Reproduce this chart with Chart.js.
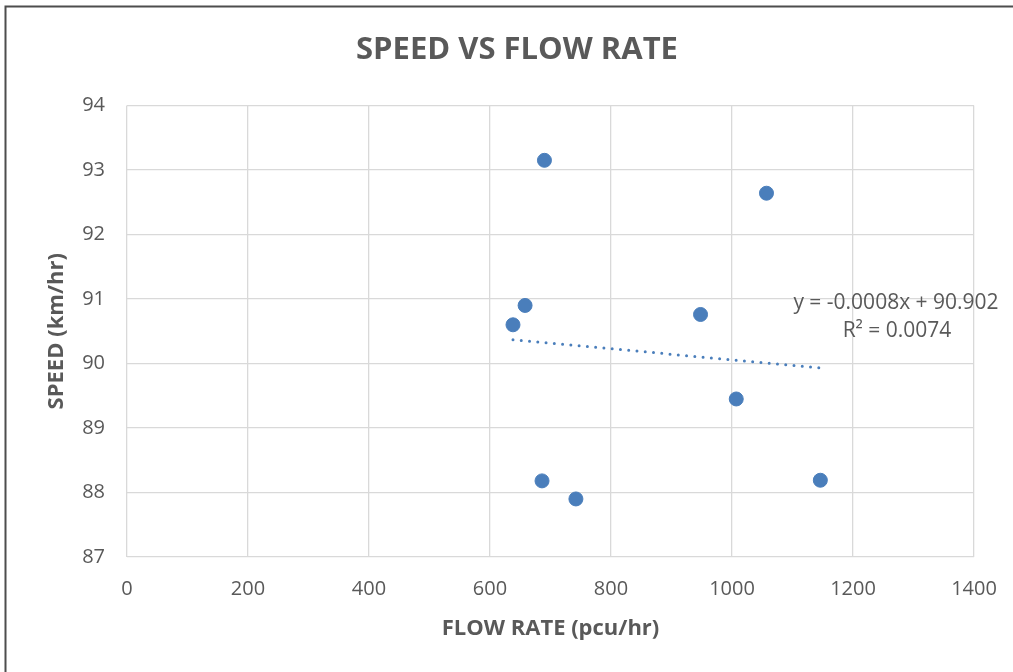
<!DOCTYPE html>
<html>
<head>
<meta charset="utf-8">
<script src="https://cdn.jsdelivr.net/npm/chart.js@4"></script>
<style>
  body { margin: 0; background: #fff; }
  #wrap { position: absolute; left: 0; top: 0; width: 1013px; height: 672px; }
</style>
</head>
<body>
<div id="wrap"><canvas id="chart_speed"></canvas></div>
<script>
const flow_rate = [690, 1057, 658, 638, 948, 1007, 686, 742, 1146];
const speed = [93.15, 92.64, 90.90, 90.60, 90.76, 89.45, 88.18, 87.90, 88.19];

// linear trendline end points (as drawn)
const trend_x = [638, 1146];
const trend_y = [90.37, 89.93];
const trend_label = ["y = -0.0008x + 90.902", "R\u00B2 = 0.0074"];

const chart_title = "SPEED VS FLOW RATE";
const x_ticks = [0, 200, 400, 600, 800, 1000, 1200, 1400];
const y_ticks = [87, 88, 89, 90, 91, 92, 93, 94];

const blue = "#4a7ebb";
const grey_text = "#595959";
const font_face = "'Open Sans', 'Liberation Sans', sans-serif";

const frame_plugin = {
    id: 'frame',
    afterDraw(chart) {
        const ctx = chart.ctx;
        ctx.save();
        ctx.strokeStyle = "#4d4d4d";
        ctx.lineWidth = 2;
        ctx.beginPath();
        ctx.moveTo(5.5, chart.height);
        ctx.lineTo(5.5, 6.5);
        ctx.lineTo(chart.width, 6.5);
        ctx.stroke();
        ctx.restore();
    }
};

const text_plugin = {
    id: 'texts',
    afterDatasetsDraw(chart) {
        const ctx = chart.ctx;
        ctx.save();
        ctx.fillStyle = grey_text;
        ctx.textAlign = "center";
        ctx.textBaseline = "middle";
        ctx.font = "bold 31px " + font_face;
        ctx.fillText(chart_title, 517, 50);
        ctx.font = "21px " + font_face;
        ctx.fillText(trend_label[0], 896, 303);
        ctx.fillText(trend_label[1], 897, 331);
        ctx.restore();
    }
};

new Chart(document.getElementById("chart_speed"), {
    type: 'scatter',
    data: {
        datasets: [{
            label: "Speed",
            data: flow_rate.map((x, i) => ({ x: x, y: speed[i] })),
            backgroundColor: blue,
            borderColor: blue,
            pointRadius: 7,
            pointHoverRadius: 7,
            order: 1
        }, {
            label: "Linear trend",
            type: 'line',
            data: trend_x.map((x, i) => ({ x: x, y: trend_y[i] })),
            borderColor: blue,
            borderWidth: 3,
            borderDash: [0, 8.3],
            borderCapStyle: 'round',
            pointRadius: 0,
            fill: false,
            order: 0
        }]
    },
    options: {
        responsive: true,
        maintainAspectRatio: false,
        animation: false,
        layout: { padding: { left: 8, right: 39, top: 105.5, bottom: 0 } },
        plugins: {
            legend: { display: false },
            tooltip: { enabled: false },
            title: { display: false }
        },
        scales: {
            x: {
                type: 'linear',
                min: 0,
                max: 1400,
                afterBuildTicks: (scale) => { scale.ticks = x_ticks.map(v => ({ value: v })); },
                afterFit: (scale) => {
                    scale.height = 672 - 557;
                    scale.paddingRight = 0;
                    scale.paddingLeft = 0;
                },
                grid: { color: "#d9d9d9", lineWidth: 1.3, drawTicks: false },
                border: { display: false },
                ticks: {
                    color: grey_text, padding: 20, font: { family: font_face, size: 20 },
                    callback: (v) => String(v)
                },
                title: {
                    display: true,
                    text: "FLOW RATE (pcu/hr)",
                    color: grey_text,
                    font: { family: font_face, size: 22, weight: 'bold', lineHeight: 1.2 },
                    padding: { top: 0, bottom: 29.8 }
                }
            },
            y: {
                min: 87,
                max: 94,
                afterBuildTicks: (scale) => { scale.ticks = y_ticks.map(v => ({ value: v })); },
                afterFit: (scale) => { scale.width = 127 - 8; },
                grid: { color: "#d9d9d9", lineWidth: 1.3, drawTicks: false },
                border: { display: false },
                ticks: {
                    color: grey_text, padding: 22, font: { family: font_face, size: 20 },
                    callback: (v) => String(v)
                },
                title: {
                    display: true,
                    text: "SPEED (km/hr)",
                    color: grey_text,
                    font: { family: font_face, size: 22, weight: 'bold', lineHeight: 1.2 },
                    padding: { top: 35.8, bottom: 0 }
                }
            }
        }
    },
    plugins: [frame_plugin, text_plugin]
});
</script>
</body>
</html>
